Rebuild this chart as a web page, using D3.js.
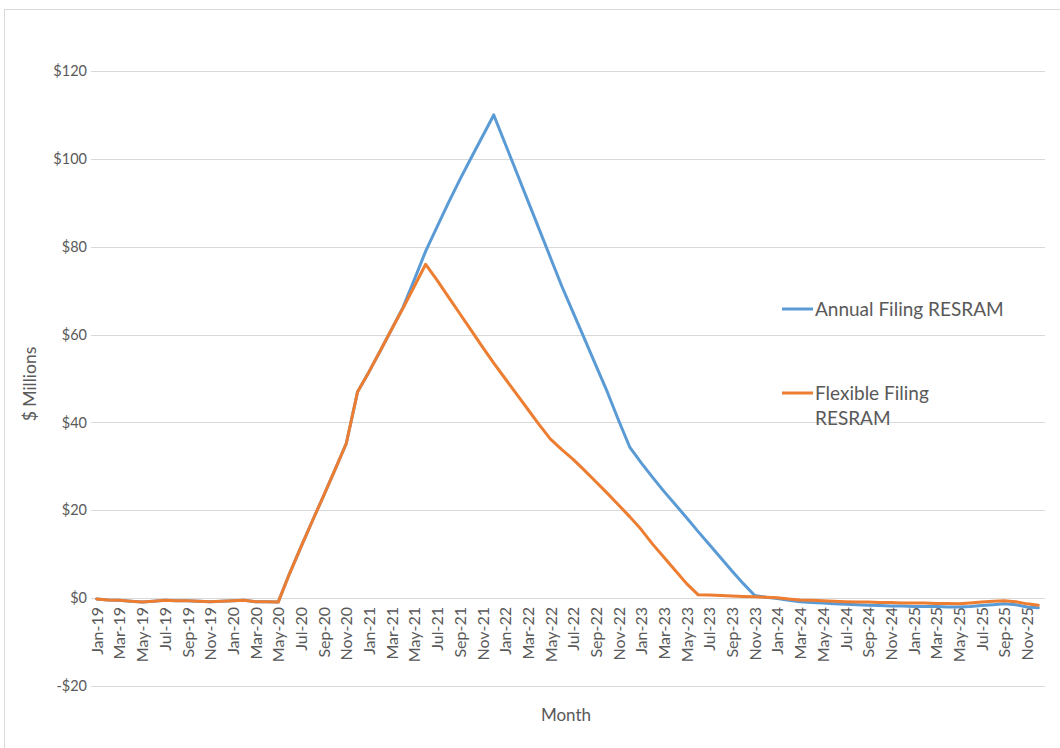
<!DOCTYPE html>
<html>
<head>
<meta charset="utf-8">
<script src="https://cdn.jsdelivr.net/npm/d3@7"></script>
<style>
  html, body { margin: 0; padding: 0; background: #fff; }
  svg text { font-family: Lato, "Open Sans", sans-serif; fill: #595959; }
</style>
</head>
<body>
<svg id="chart" width="1060" height="748"></svg>
<script>
// Month categories, Jan-19 through Dec-25
const monthNames = ["Jan","Feb","Mar","Apr","May","Jun","Jul","Aug","Sep","Oct","Nov","Dec"];
const years = ["19","20","21","22","23","24","25"];
const months = [];
years.forEach(y => monthNames.forEach(m => months.push(m + "-" + y)));

// Balances, $ millions
const annualFiling = [
  -0.2, -0.4, -0.5, -0.7, -0.9, -0.7, -0.5, -0.6, -0.6, -0.7, -0.8, -0.7,
  -0.6, -0.5, -0.8, -0.8, -0.9, 5.6, 11.6, 17.5, 23.3, 29.2, 35.2, 47,
  51.5, 56.3, 61.2, 66.2, 72.5, 79, 84.5, 90, 95.2, 100.2, 105.1, 110,
  103.5, 97, 90.5, 84, 77.5, 71, 65, 59, 53, 47, 40.5, 34.3,
  30.8, 27.5, 24.3, 21.3, 18.3, 15.2, 12.2, 9.2, 6.2, 3.3, 0.6, 0.2,
  -0.1, -0.5, -0.8, -1.0, -1.1, -1.3, -1.4, -1.5, -1.6, -1.7, -1.8, -1.8,
  -1.9, -1.9, -1.9, -2.0, -2.0, -1.9, -1.7, -1.5, -1.3, -1.5, -2.0, -2.2
];
const flexibleFiling = [
  -0.2, -0.4, -0.5, -0.7, -0.9, -0.7, -0.5, -0.6, -0.6, -0.7, -0.8, -0.7,
  -0.6, -0.5, -0.8, -0.8, -0.9, 5.6, 11.6, 17.5, 23.3, 29.2, 35.2, 47,
  51.5, 56.3, 61.2, 66, 71, 76, 72.4, 68.6, 64.8, 61, 57.2, 53.5,
  50, 46.5, 43, 39.5, 36.2, 33.8, 31.6, 29.1, 26.5, 23.9, 21.2, 18.5,
  15.6, 12.3, 9.3, 6.3, 3.3, 0.8, 0.7, 0.6, 0.5, 0.4, 0.3, 0.2,
  0.1, -0.2, -0.4, -0.5, -0.6, -0.7, -0.8, -0.9, -0.9, -1.0, -1.0, -1.1,
  -1.1, -1.1, -1.2, -1.2, -1.3, -1.1, -0.9, -0.7, -0.6, -0.8, -1.3, -1.6
];
const yTicks = [-20, 0, 20, 40, 60, 80, 100, 120];

const series = [
  { name: ["Annual Filing RESRAM"], values: annualFiling, color: "#5B9BD5", legendY: 309 },
  { name: ["Flexible Filing", "RESRAM"], values: flexibleFiling, color: "#ED7D31", legendY: 393 }
];

const svg = d3.select("#chart");

// chart frame
svg.append("rect")
  .attr("x", 4.5).attr("y", 9.5).attr("width", 1060).attr("height", 760)
  .attr("fill", "#fff").attr("stroke", "#d9d9d9").attr("stroke-width", 1);

const x = d3.scalePoint().domain(months).range([91, 1044]).padding(0.5);
const y = d3.scaleLinear().domain([-20, 120]).range([686, 71]);

// horizontal gridlines
svg.append("g").selectAll("line").data(yTicks).join("line")
  .attr("x1", 91).attr("x2", 1045)
  .attr("y1", d => Math.round(y(d)) + 0.5).attr("y2", d => Math.round(y(d)) + 0.5)
  .attr("stroke", "#d9d9d9").attr("stroke-width", 1);

// y axis labels
const yAxis = d3.axisLeft(y).tickValues(yTicks).tickSize(0).tickPadding(0)
  .tickFormat(d => (d < 0 ? "-$" : "$") + Math.abs(d));
svg.append("g").attr("transform", "translate(87,0)").call(yAxis)
  .call(g => g.select(".domain").remove())
  .call(g => g.selectAll("text").style("font-size", "14.5px").style("font-family", "Lato, sans-serif").attr("fill", "#595959"));

// x axis labels, every other month, rotated
const xAxis = d3.axisBottom(x).tickValues(months.filter((m, i) => i % 2 === 0)).tickSize(0).tickPadding(0);
svg.append("g").attr("transform", "translate(0,607)").call(xAxis)
  .call(g => g.select(".domain").remove())
  .call(g => g.selectAll("text")
    .style("font-size", "16px").style("font-family", "Lato, sans-serif").attr("fill", "#595959")
    .attr("transform", "rotate(-90)")
    .attr("text-anchor", "end")
    .attr("x", 0).attr("y", 0).attr("dx", 0).attr("dy", "0.35em"));

// axis titles
svg.append("text").attr("x", 566).attr("y", 721).attr("text-anchor", "middle")
  .style("font-size", "17px").text("Month");
svg.append("text").attr("transform", "translate(36,384) rotate(-90)").attr("text-anchor", "middle")
  .style("font-size", "17.5px").text("$ Millions");

// series lines
const line = d3.line().x((d, i) => x(months[i])).y(d => y(d));
svg.append("g").selectAll("path").data(series).join("path")
  .attr("d", d => line(d.values))
  .attr("fill", "none").attr("stroke", d => d.color)
  .attr("stroke-width", 3).attr("stroke-linejoin", "round").attr("stroke-linecap", "round");

// legend
const leg = svg.append("g").selectAll("g").data(series).join("g");
leg.append("line")
  .attr("x1", 782).attr("x2", 813).attr("y1", d => d.legendY).attr("y2", d => d.legendY)
  .attr("stroke", d => d.color).attr("stroke-width", 3);
leg.append("text").style("font-size", "19px")
  .selectAll("tspan").data(d => d.name.map((t, k) => ({ t, k, y0: d.legendY }))).join("tspan")
  .attr("x", 815).attr("y", d => d.y0 + 7 + d.k * 25).text(d => d.t);
</script>
</body>
</html>
